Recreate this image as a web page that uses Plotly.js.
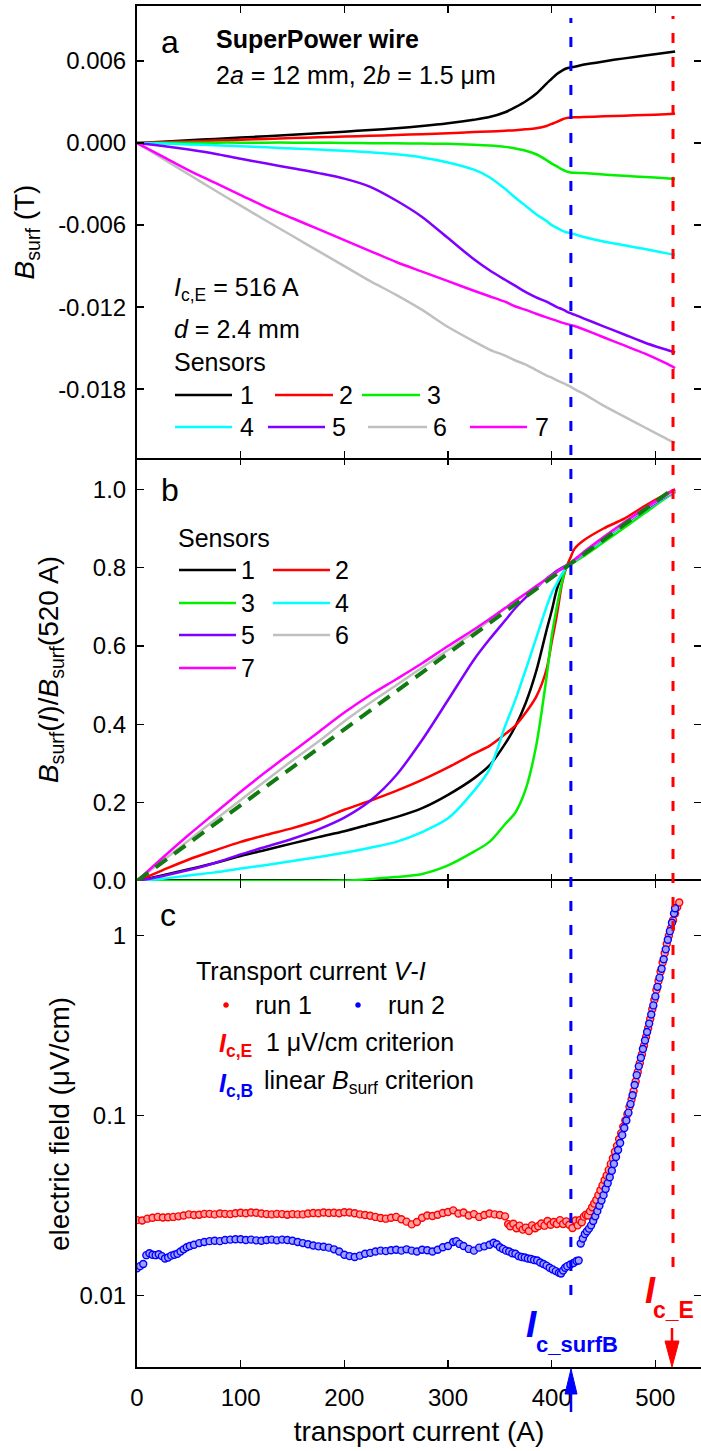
<!DOCTYPE html>
<html><head><meta charset="utf-8">
<script src="https://cdn.plot.ly/plotly-3.0.1.min.js"></script>
<style>html,body{margin:0;padding:0;background:#fff}#chart{width:701px;height:1451px}</style>
</head><body><div id="chart"></div>
<script>
// ---------------- DATA ----------------
// transport current grid for the Hall-sensor curves (A)
const currentB = [0,25,50,75,100,125,150,175,200,225,250,275,300,325,340,355,365,375,385,395,400,405,410,414,418,422,430,450,470,490,510,519];

// panel a: B_surf (T) for sensors 1..7
const bsurf1 = [0,0.0001,0.0002,0.0003,0.0004,0.0005,0.0006,0.00071,0.00083,0.00095,0.00108,0.00124,0.00144,0.0017,0.0019,0.00225,0.00262,0.00305,0.0036,0.00435,0.0047,0.00505,0.0053,0.00545,0.00553,0.00558,0.00572,0.00597,0.00619,0.0064,0.0066,0.0067];
const bsurf2 = [0,0.00006,0.00012,0.00018,0.00024,0.0003,0.00036,0.00042,0.00047,0.00053,0.00059,0.00065,0.00072,0.0008,0.00084,0.0009,0.00094,0.001,0.00108,0.00125,0.0014,0.00155,0.00172,0.00182,0.00187,0.00188,0.0019,0.00195,0.002,0.00205,0.0021,0.00214];
const bsurf3 = [0,0.00001,0.00002,0.00003,0.00003,0.00003,0.00003,0.00002,0.00001,-0.00001,-0.00002,-0.00004,-0.00006,-0.00012,-0.00018,-0.00028,-0.0004,-0.00056,-0.00082,-0.00125,-0.0015,-0.0017,-0.00193,-0.00207,-0.00215,-0.00217,-0.0022,-0.0023,-0.0024,-0.00248,-0.00258,-0.00263];
const bsurf4 = [0,-0.00004,-0.0001,-0.00017,-0.00024,-0.00031,-0.0004,-0.00048,-0.00057,-0.00068,-0.00082,-0.00105,-0.00142,-0.00195,-0.0025,-0.00335,-0.004,-0.0046,-0.0052,-0.0057,-0.006,-0.0062,-0.0064,-0.00652,-0.00659,-0.00667,-0.00685,-0.0072,-0.00748,-0.00775,-0.00805,-0.00817];
const bsurf5 = [0,-0.00022,-0.00048,-0.00078,-0.00115,-0.0015,-0.00185,-0.0022,-0.0026,-0.0032,-0.0042,-0.0054,-0.00695,-0.0085,-0.0093,-0.01,-0.01045,-0.0109,-0.01128,-0.0116,-0.0118,-0.012,-0.01215,-0.0123,-0.01244,-0.01255,-0.0128,-0.0134,-0.014,-0.0146,-0.0151,-0.01532];
const bsurf6 = [0,-0.00115,-0.0023,-0.00345,-0.00458,-0.0057,-0.0068,-0.0079,-0.009,-0.0101,-0.0111,-0.0122,-0.01345,-0.0145,-0.0151,-0.01555,-0.0159,-0.0162,-0.0166,-0.017,-0.01715,-0.01735,-0.01752,-0.01766,-0.01781,-0.018,-0.0183,-0.0192,-0.02,-0.0208,-0.0216,-0.02195];
const bsurf7 = [0,-0.001,-0.002,-0.0029,-0.0038,-0.0047,-0.0055,-0.0063,-0.0071,-0.0079,-0.0087,-0.0094,-0.0101,-0.0108,-0.0112,-0.0116,-0.01195,-0.0122,-0.01248,-0.01275,-0.01288,-0.013,-0.01313,-0.01322,-0.0133,-0.01338,-0.0136,-0.0142,-0.0148,-0.0154,-0.0161,-0.01646];

// panel b: B_surf(I)/B_surf(520 A) for sensors 1..7
const norm1 = [0,0.015,0.03,0.046,0.064,0.08,0.096,0.112,0.127,0.145,0.163,0.186,0.22,0.262,0.295,0.35,0.395,0.455,0.535,0.64,0.69,0.745,0.78,0.8,0.811,0.82,0.835,0.875,0.912,0.948,0.982,0.995];
const norm2 = [0,0.028,0.055,0.078,0.1,0.118,0.135,0.155,0.182,0.205,0.23,0.258,0.29,0.325,0.345,0.375,0.397,0.43,0.47,0.54,0.61,0.68,0.76,0.8,0.825,0.848,0.868,0.9,0.925,0.958,0.988,1.0];
const norm3 = [0,0,0,0,0,0,0,0,0.001,0.005,0.01,0.018,0.04,0.075,0.1,0.145,0.175,0.235,0.345,0.52,0.625,0.7,0.765,0.8,0.811,0.815,0.828,0.865,0.902,0.94,0.978,0.993];
const norm4 = [0,0.006,0.014,0.022,0.032,0.041,0.051,0.061,0.072,0.085,0.1,0.125,0.16,0.23,0.285,0.395,0.463,0.54,0.62,0.7,0.735,0.76,0.785,0.8,0.811,0.818,0.833,0.872,0.91,0.946,0.98,0.993];
const norm5 = [0,0.013,0.028,0.046,0.068,0.088,0.108,0.132,0.162,0.205,0.27,0.36,0.462,0.565,0.617,0.665,0.697,0.724,0.748,0.772,0.782,0.792,0.8,0.806,0.811,0.82,0.835,0.875,0.912,0.948,0.982,0.995];
const norm6 = [0,0.052,0.104,0.156,0.207,0.258,0.308,0.356,0.408,0.455,0.5,0.545,0.59,0.635,0.665,0.695,0.714,0.733,0.752,0.77,0.779,0.788,0.797,0.804,0.811,0.82,0.836,0.876,0.913,0.95,0.983,0.995];
const norm7 = [0,0.06,0.118,0.173,0.228,0.28,0.33,0.38,0.43,0.475,0.515,0.556,0.6,0.642,0.669,0.697,0.716,0.734,0.753,0.771,0.78,0.789,0.797,0.804,0.811,0.82,0.838,0.878,0.916,0.952,0.986,1.0];

// linear B_surf criterion line (panel b)
const linearI = [0, 519];
const linearN = [0, 1.005];

// panel c: transport V-I, run 1 (A, uV/cm)
const run1I = [0,5,10,15,20,25,30,35,40,45,50,55,60,65,70,75,80,85,90,95,100,105,110,115,120,125,130,135,140,145,150,155,160,165,170,175,180,185,190,195,200,205,210,215,220,225,230,235,240,245,250,255,260,265,270,275,280,285,290,295,300,305,310,315,320,325,330,335,340,345,350,355,358,360,363,366,369,372,375,378,381,384,387,390,393,396,399,402,405,408,411,414,417,420,423,425,427,429,431,433,435,437,439,441,443,445,447,449,451,453,455,457,459,461,463,465,467,469,471,473,475,477,479,481,483,485,487,489,491,493,495,497,499,501,503,505,507,509,511,513,515,517,519,521,523];
const run1E = [0.0263,0.0262,0.0268,0.0271,0.0274,0.0272,0.0273,0.0274,0.0276,0.0279,0.0283,0.0281,0.0282,0.0285,0.0285,0.0283,0.0286,0.0285,0.0284,0.0287,0.0289,0.0287,0.029,0.0289,0.0286,0.0284,0.0283,0.0285,0.0284,0.0282,0.0284,0.0283,0.0283,0.0286,0.0288,0.0287,0.029,0.0288,0.0289,0.0287,0.0291,0.029,0.0287,0.0283,0.0281,0.0278,0.0274,0.027,0.0268,0.0271,0.0274,0.0266,0.0258,0.0249,0.0257,0.0271,0.0279,0.0277,0.0282,0.0288,0.0292,0.0298,0.0286,0.029,0.0279,0.0284,0.0274,0.0281,0.0286,0.0283,0.0281,0.0276,0.025,0.0243,0.0251,0.0237,0.0245,0.0233,0.0239,0.0229,0.0246,0.0237,0.0243,0.0252,0.0245,0.026,0.0248,0.0257,0.025,0.0263,0.025,0.0259,0.0248,0.0238,0.0262,0.0246,0.0263,0.0256,0.0275,0.0282,0.0279,0.0295,0.031,0.0325,0.034,0.0362,0.0385,0.041,0.0438,0.0465,0.05,0.054,0.058,0.063,0.068,0.074,0.08,0.087,0.094,0.102,0.112,0.123,0.137,0.155,0.175,0.196,0.219,0.245,0.274,0.306,0.345,0.39,0.44,0.5,0.56,0.63,0.71,0.8,0.9,1.0,1.1,1.22,1.33,1.44,1.53];

// panel c: run 2
const run2I = [0,3,6,9,12,15,18,21,24,27,30,33,36,39,42,45,48,51,55,60,65,70,75,80,85,90,95,100,105,110,115,120,125,130,135,140,145,150,155,160,165,170,175,180,185,190,195,200,205,210,215,220,225,230,235,240,245,250,255,260,265,270,275,280,285,290,295,300,305,308,311,315,320,325,330,335,340,344,347,350,353,356,359,362,365,368,371,374,377,380,383,386,389,392,395,398,401,404,407,409,411,413,415,418,421,424,426,428,430,432,434,436,438,440,442,444,446,448,450,452,454,456,458,460,462,464,466,468,470,472,474,476,478,480,482,484,486,488,490,492,494,496,498,500,502,504,506,508,510,512,514,516,518,519];
const run2E = [0.0142,0.0146,0.015,0.0168,0.0172,0.0169,0.0168,0.017,0.0166,0.0161,0.0163,0.0167,0.0169,0.0171,0.0176,0.0181,0.0186,0.0189,0.0192,0.0196,0.0199,0.0201,0.0202,0.0201,0.0204,0.0205,0.0206,0.0206,0.0204,0.0205,0.0203,0.0202,0.0204,0.0205,0.0203,0.0205,0.0204,0.0202,0.0199,0.0196,0.0193,0.019,0.0188,0.0187,0.0185,0.0181,0.0176,0.0169,0.0166,0.0164,0.0167,0.0171,0.0173,0.0176,0.0178,0.0177,0.0179,0.018,0.0178,0.0181,0.0178,0.0176,0.018,0.0179,0.0176,0.018,0.0186,0.0189,0.0199,0.0201,0.0194,0.0189,0.0182,0.0178,0.0185,0.0188,0.0192,0.0197,0.0193,0.0186,0.0182,0.0178,0.0176,0.0172,0.0171,0.0166,0.0164,0.0163,0.0161,0.016,0.0158,0.0157,0.0153,0.015,0.0147,0.0143,0.014,0.0137,0.0134,0.0133,0.0138,0.0143,0.0146,0.0149,0.0152,0.0156,0.0157,0.0195,0.0208,0.022,0.0228,0.0236,0.0246,0.026,0.0276,0.0295,0.0316,0.0338,0.0362,0.0392,0.0422,0.0455,0.0495,0.054,0.059,0.0645,0.0705,0.078,0.0855,0.094,0.104,0.116,0.13,0.148,0.168,0.188,0.21,0.235,0.262,0.292,0.325,0.365,0.41,0.46,0.52,0.585,0.655,0.74,0.84,0.95,1.06,1.18,1.33,1.42];

// critical currents (A)
const icSurfB = 418.5;
const icE = 517;

// tick labels
const tickA = [-0.018,-0.012,-0.006,0,0.006];
const tickAText = ['-0.018','-0.012','-0.006','0.000','0.006'];
const tickB = [0,0.2,0.4,0.6,0.8,1.0];
const tickBText = ['0.0','0.2','0.4','0.6','0.8','1.0'];
const tickC = [0.01,0.1,1];
const tickCText = ['0.01','0.1','1'];
const tickX = [0,100,200,300,400,500];
const sensorNames = ['1','2','3','4','5','6','7'];

// ---------------- STYLE / LAYOUT ----------------
const colors = ['#000000','#ff0000','#00f000','#00ffff','#8000ff','#c0c0c0','#ff00ff'];
const FONT = 'Liberation Sans, Arial, sans-serif';
const L = 137, R = 701, T = 6, B = 1367;
const PX = x => (x - L) / (R - L);
const PY = y => (B - y) / (B - T);

const bsurfAll = [bsurf1,bsurf2,bsurf3,bsurf4,bsurf5,bsurf6,bsurf7];
const normAll = [norm1,norm2,norm3,norm4,norm5,norm6,norm7];

const traces = [];
bsurfAll.forEach((v,i) => traces.push({x: currentB, y: v, xaxis:'x3', yaxis:'y3', mode:'lines', name:'sensor '+sensorNames[i], showlegend:false, line:{color:colors[i], width:2.5, shape:'spline', smoothing:0.8}}));
normAll.forEach((v,i) => traces.push({x: currentB, y: v, xaxis:'x2', yaxis:'y2', mode:'lines', name:'sensor '+sensorNames[i], showlegend:false, line:{color:colors[i], width:2.5, shape:'spline', smoothing:0.8}}));
traces.push({x: linearI, y: linearN, xaxis:'x2', yaxis:'y2', mode:'lines', name:'linear', showlegend:false, line:{color:'#117a11', width:4, dash:'14px,9px'}});
traces.push({x: run1I, y: run1E, xaxis:'x', yaxis:'y', mode:'markers', name:'run 1', showlegend:false, marker:{symbol:'circle', size:7, color:'#ffa0a0', line:{color:'#ff0000', width:1.4}}});
traces.push({x: run2I, y: run2E, xaxis:'x', yaxis:'y', mode:'markers', name:'run 2', showlegend:false, marker:{symbol:'circle', size:7, color:'#a0a0ff', line:{color:'#0000ff', width:1.4}}});

const xBase = {range:[0,544], tickvals:tickX, ticks:'inside', ticklen:7, tickwidth:1.5, tickcolor:'#000', showline:true, linewidth:2, linecolor:'#000', mirror:'ticks', showgrid:false, zeroline:false, tickfont:{family:FONT, size:24, color:'#000'}};
const yBase = {ticks:'inside', ticklen:7, tickwidth:1.5, tickcolor:'#000', showline:true, linewidth:2, linecolor:'#000', mirror:'ticks', showgrid:false, zeroline:false, tickfont:{family:FONT, size:24, color:'#000'}, ticklabelstandoff:4};

const layout = {
  width:701, height:1451,
  margin:{l:L, r:701-R, t:T, b:1451-B, autoexpand:false},
  paper_bgcolor:'#fff', plot_bgcolor:'#fff',
  font:{family:FONT, color:'#000'},
  showlegend:false,
  xaxis: Object.assign({}, xBase, {domain:[0,1], anchor:'y', ticklabelstandoff:8,
     title:{text:'transport current (A)', font:{family:FONT, size:28}, standoff:12}}),
  // middle panel: its frame lines are drawn by the neighbouring panels, only its ticks are shown
  xaxis2: Object.assign({}, xBase, {domain:[0,1], anchor:'y2', showticklabels:false, linecolor:'rgba(0,0,0,0)'}),
  xaxis3: Object.assign({}, xBase, {domain:[0,1], anchor:'y3', showticklabels:false}),
  yaxis: Object.assign({}, yBase, {domain:[0,PY(881)], anchor:'x', type:'log', range:[-2.396,0.304], tickvals:tickC, ticktext:tickCText,
     title:{text:'electric field (μV/cm)', font:{family:FONT, size:28}, standoff:2}}),
  yaxis2: Object.assign({}, yBase, {domain:[PY(881),PY(458)], anchor:'x2', range:[0,1.08], tickvals:tickB, ticktext:tickBText,
     title:{text:'<i>B</i><sub>surf</sub>(<i>I</i>)/<i>B</i><sub>surf</sub>(520 A)', font:{family:FONT, size:28}, standoff:26}}),
  yaxis3: Object.assign({}, yBase, {domain:[PY(458),1], anchor:'x3', range:[-0.02303,0.01002], tickvals:tickA, ticktext:tickAText,
     title:{text:'<i>B</i><sub>surf</sub> (T)', font:{family:FONT, size:28}, standoff:15}}),
  shapes:[], annotations:[]
};

function txt(text, x, y, size, opts) {
  layout.annotations.push(Object.assign({text:text, xref:'paper', yref:'paper', x:PX(x), y:PY(y), xanchor:'left', yanchor:'middle', showarrow:false, font:{family:FONT, size:size, color:'#000'}}, opts||{}));
}
function legLine(x0, x1, y, color) {
  layout.shapes.push({type:'line', xref:'paper', yref:'paper', x0:PX(x0), x1:PX(x1), y0:PY(y), y1:PY(y), line:{color:color, width:2.5}});
}

// vertical critical-current lines
layout.shapes.push({type:'line', xref:'x', yref:'paper', x0:icSurfB, x1:icSurfB, y0:PY(1295), y1:PY(18), line:{color:'#0000ff', width:3, dash:'10px,14px'}});
layout.shapes.push({type:'line', xref:'x', yref:'paper', x0:icE, x1:icE, y0:PY(1267), y1:PY(16), line:{color:'#ff0000', width:3, dash:'10px,14px'}});

// panel letters
txt('a', 159, 42, 32);
txt('b', 159, 490, 32);
txt('c', 158, 915, 32);

// panel a texts
txt('<b>SuperPower wire</b>', 214, 39, 25);
txt('2<i>a</i> = 12 mm, 2<i>b</i> = 1.5 μm', 214, 75, 25);
txt('<i>I</i><sub>c,E</sub> = 516 A', 172, 289, 25);
txt('<i>d</i> = 2.4 mm', 172, 329, 25);
txt('Sensors', 172, 362, 25);
// panel a legend
const legA = [[175,232,238,395],[275,333,337,395],[362,420,425,395],[175,232,238,427],[268,325,330,427],[368,427,431,427],[470,527,533,427]];
legA.forEach((p,i)=>{ legLine(p[0],p[1],p[3],colors[i]); txt(sensorNames[i], p[2], p[3], 25); });

// panel b legend
txt('Sensors', 176, 538, 25);
const legB = [[179,236,239,570],[273,330,333,570],[179,236,239,603],[273,330,333,603],[179,236,239,635],[273,330,333,635],[179,236,239,668]];
legB.forEach((p,i)=>{ legLine(p[0],p[1],p[3],colors[i]); txt(sensorNames[i], p[2], p[3], 25); });

// panel c legend
txt('Transport current <i>V</i>-<i>I</i>', 194, 971, 25);
layout.shapes.push({type:'circle', xref:'paper', yref:'paper', x0:PX(223.5), x1:PX(228.5), y0:PY(1007.5), y1:PY(1002.5), fillcolor:'#ff0000', line:{color:'#ff0000', width:0.5}});
txt('run 1', 253, 1005, 25);
layout.shapes.push({type:'circle', xref:'paper', yref:'paper', x0:PX(355.5), x1:PX(360.5), y0:PY(1007.5), y1:PY(1002.5), fillcolor:'#0000ff', line:{color:'#0000ff', width:0.5}});
txt('run 2', 386, 1005, 25);
txt('<b><i>I</i><sub>c,E</sub></b>', 217, 1045, 25, {font:{family:FONT, size:25, color:'#ff0000'}});
txt('1 μV/cm criterion', 264, 1042, 25);
txt('<b><i>I</i><sub>c,B</sub></b>', 217, 1085, 25, {font:{family:FONT, size:25, color:'#0000ff'}});
txt('linear <i>B</i><sub>surf</sub> criterion', 262, 1082, 25);

// critical current labels
txt('<b><i>I</i></b>', 524, 1324, 37, {font:{family:FONT, size:37, color:'#0000ff'}});
txt('<b>c_surfB</b>', 534, 1344, 22, {font:{family:FONT, size:22, color:'#0000ff'}});
txt('<b><i>I</i></b>', 643, 1290, 36, {font:{family:FONT, size:36, color:'#ff0000'}});
txt('<b>c_E</b>', 651, 1310, 23, {font:{family:FONT, size:23, color:'#ff0000'}});

// arrows
layout.shapes.push({type:'line', xref:'paper', yref:'paper', x0:PX(672), x1:PX(672), y0:PY(1328), y1:PY(1345), line:{color:'#ff0000', width:2.5}});
layout.shapes.push({type:'path', xref:'paper', yref:'paper', path:`M${PX(665)},${PY(1341)} L${PX(679)},${PY(1341)} L${PX(672)},${PY(1367)} Z`, fillcolor:'#ff0000', line:{color:'#ff0000', width:1}});
layout.shapes.push({type:'line', xref:'paper', yref:'paper', x0:PX(571), x1:PX(571), y0:PY(1412), y1:PY(1390), line:{color:'#0000ff', width:2.5}});
layout.shapes.push({type:'path', xref:'paper', yref:'paper', path:`M${PX(565)},${PY(1394)} L${PX(577)},${PY(1394)} L${PX(571)},${PY(1369)} Z`, fillcolor:'#0000ff', line:{color:'#0000ff', width:1}});

Plotly.newPlot('chart', traces, layout, {displayModeBar:false, staticPlot:true});
</script></body></html>
